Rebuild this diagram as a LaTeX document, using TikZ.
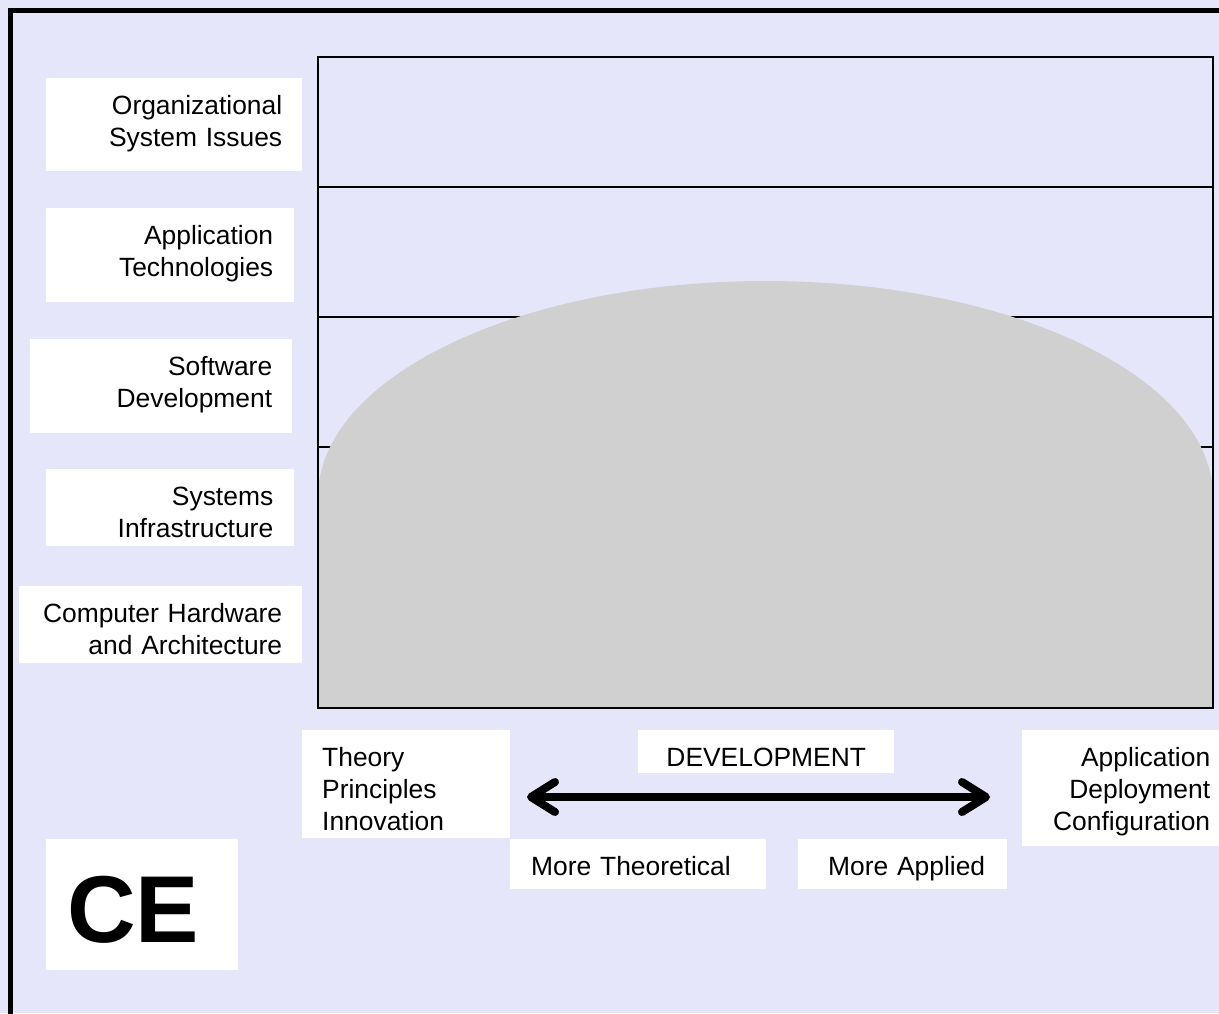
\documentclass[tikz,border=0pt]{standalone}
\usepackage{fontspec}
\setmainfont{Liberation Sans}
\usetikzlibrary{arrows.meta}

\definecolor{pagebg}{RGB}{230,230,250}
\definecolor{hump}{RGB}{208,208,208}

\begin{document}
\begin{tikzpicture}[x=1pt,y=-1pt,
  tag/.style={fill=white, anchor=north west, inner ysep=0pt,
    font=\fontsize{26.4}{32}\selectfont, text height=36pt},
  gridline/.style={line width=2pt, black},
  devarrow/.style={line width=8pt, line cap=round,
    >={Straight Barb[round,length=24pt,width=30pt]}, <->}
]
  % canvas and outer frame
  \useasboundingbox (0,0) rectangle (1219,1013);
  \clip (0,0) rectangle (1219,1013);
  \fill[pagebg] (0,0) rectangle (1219,1013);
  \draw[line width=5pt] (10.5,10.5) rectangle (1240,1040);

  % layer grid
  \draw[gridline] (318,187) -- (1213,187);
  \draw[gridline] (318,317) -- (1213,317);
  \draw[gridline] (318,447) -- (1213,447);
  \draw[gridline] (318,577) -- (1213,577);

  % coverage hump
  \fill[hump] (318,708) -- (318,497)
    arc[start angle=180, end angle=0, x radius=447.5pt, y radius=216pt]
    -- (1213,708) -- cycle;
  \draw[gridline] (318,57) rectangle (1213,708);

  % layer labels
  \node[tag, align=right, inner xsep=20pt, text width=216pt, text depth=57pt]
    (org) at (46,78) {Organizational\\System Issues};
  \node[tag, align=right, inner xsep=21pt, text width=206pt, text depth=58pt]
    (apt) at (46,208) {Application\\Technologies};
  \node[tag, align=right, inner xsep=20pt, text width=222pt, text depth=58pt]
    (swd) at (30,339) {Software\\Development};
  \node[tag, align=right, inner xsep=21pt, text width=206pt, text depth=41pt]
    (sys) at (46,469) {Systems\\Infrastructure};
  \node[tag, align=right, inner xsep=20pt, text width=243pt, text depth=41pt]
    (hw) at (19,586) {Computer Hardware\\and Architecture};

  % axis labels
  \node[tag, align=left, inner xsep=20pt, text width=168pt, text depth=72pt]
    (theory) at (302,730) {Theory\\Principles\\Innovation};
  \node[tag, align=center, inner xsep=0pt, text width=256pt, text depth=7pt]
    (dev) at (638,730) {DEVELOPMENT};
  \node[tag, align=right, inner xsep=20pt, text width=168pt, text depth=80pt]
    (deploy) at (1022,730) {Application\\Deployment\\Configuration};
  \node[tag, align=left, inner xsep=21pt, text width=214pt, text depth=14pt]
    (moretheo) at (510,839) {More Theoretical};
  \node[tag, align=right, inner xsep=22pt, text width=165pt, text depth=14pt]
    (moreapp) at (798,839) {More Applied};

  % development axis
  \coordinate (axisW) at (527,797);
  \coordinate (axisE) at (990,797);
  \draw[devarrow] (axisW) -- (axisE);

  % discipline tag
  \node[tag, align=left, inner xsep=21pt, text width=150pt,
    font=\fontsize{95}{110}\selectfont\bfseries, text height=103pt, text depth=28pt]
    (ce) at (46,839) {CE};
\end{tikzpicture}
\end{document}
